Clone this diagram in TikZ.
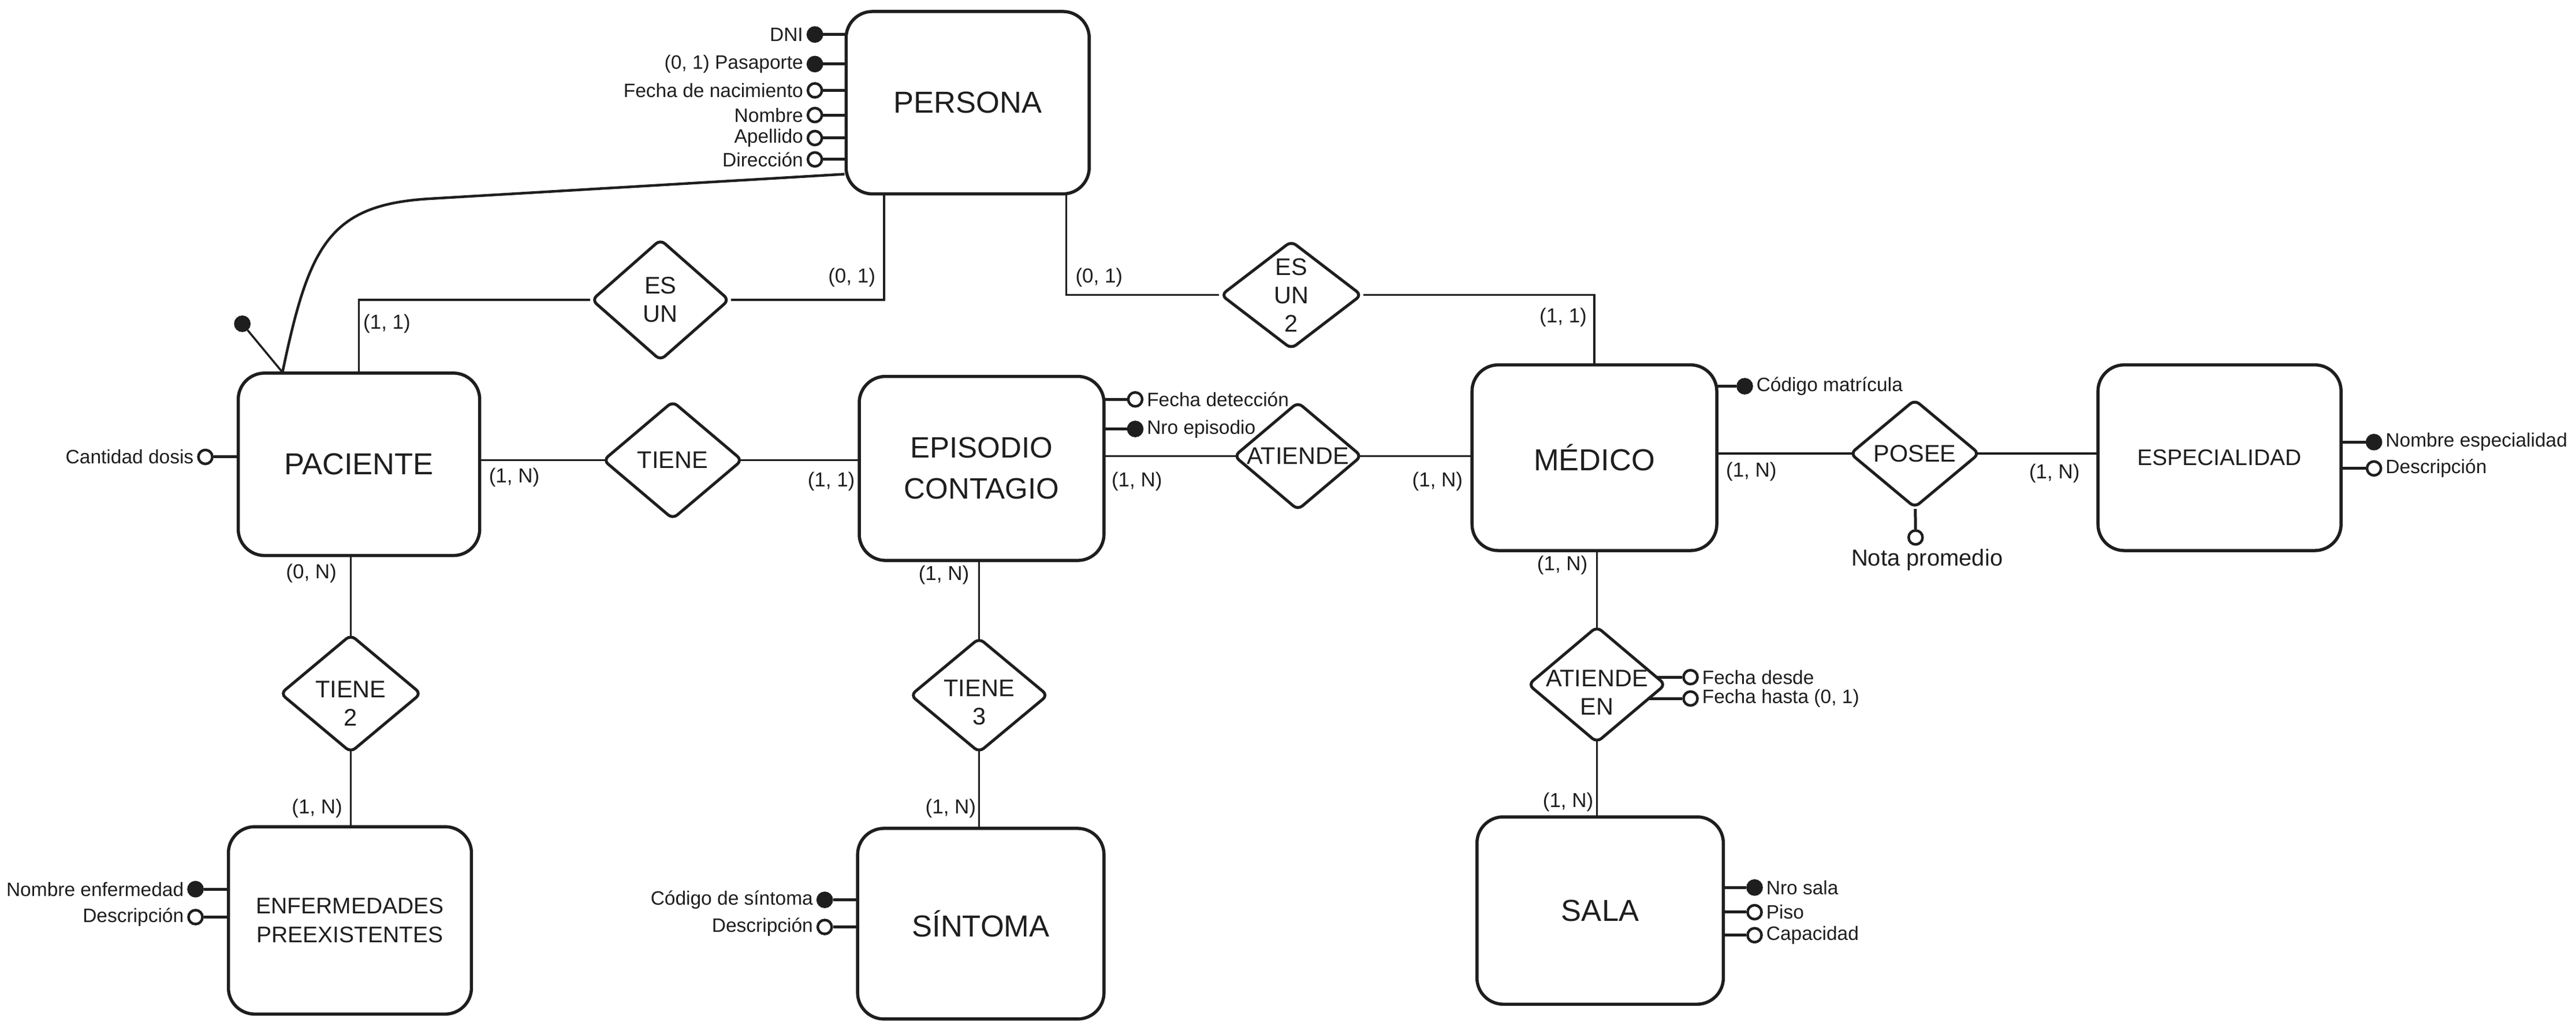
\documentclass[tikz,border=0pt]{standalone}
\usepackage{fontspec}
\setmainfont{Liberation Sans}
\usetikzlibrary{shapes.geometric,backgrounds,calc}
\definecolor{ink}{HTML}{1E1E1E}
\begin{document}
\begin{tikzpicture}[x=0.02cm,y=-0.02cm,
  every node/.style={text=ink},
  ent/.style={draw=ink, line width=1.1pt, fill=white, rounded corners=0.32cm, align=center, inner sep=0pt, font=\fontsize{10.5}{14}\selectfont},
  entsm/.style={ent, font=\fontsize{7.8}{10}\selectfont},
  rel/.style={draw=ink, line width=1pt, fill=white, diamond, inner sep=0pt, rounded corners=2pt},
  rtxt/.style={align=center, font=\fontsize{8.3}{9.8}\selectfont, inner sep=0pt},
  card/.style={font=\fontsize{7}{8}\selectfont, inner sep=0pt},
  ao/.style={circle, draw=ink, line width=0.9pt, fill=white, minimum size=0.17cm, inner sep=0pt},
  af/.style={ao, fill=ink},
  atxt/.style={font=\fontsize{6.7}{8}\selectfont, inner sep=1pt},
  conn/.style={draw=ink, line width=0.7pt},
  aconn/.style={draw=ink, line width=1pt},
]
\useasboundingbox (0,0) rectangle (1568,624);

% entities
\node[ent, minimum width=2.96cm, minimum height=2.22cm] (per) at (589,62.5) {PERSONA};
\node[ent, minimum width=2.94cm, minimum height=2.22cm] (pac) at (218.5,282.5) {PACIENTE};
\node[ent, minimum width=2.98cm, minimum height=2.24cm, font=\fontsize{10.2}{14.2}\selectfont] (epi) at (597.5,285) {EPISODIO\\CONTAGIO};
\node[ent, minimum width=2.98cm, minimum height=2.26cm] (med) at (970.5,278.5) {MÉDICO};
\node[entsm, minimum width=2.96cm, minimum height=2.26cm] (esp) at (1351,278.5) {ESPECIALIDAD};
\node[entsm, minimum width=2.96cm, minimum height=2.28cm] (enf) at (213,560) {ENFERMEDADES\\PREEXISTENTES};
\node[ent, minimum width=3.0cm, minimum height=2.32cm] (sin) at (597,562) {SÍNTOMA};
\node[ent, minimum width=3.0cm, minimum height=2.28cm] (sal) at (974,554) {SALA};

% relationships
\node[rel, minimum width=1.68cm, minimum height=1.48cm] (esun) at (402,182.5) {};
\node[rtxt] (esun-t) at (esun) {ES\\UN};
\node[rel, minimum width=1.72cm, minimum height=1.32cm] (esun2) at (786,179.5) {};
\node[rtxt] (esun2-t) at (esun2) {ES\\UN\\2};
\node[rel, minimum width=1.7cm, minimum height=1.44cm] (tiene) at (409.5,280) {};
\node[rtxt] (tiene-t) at (tiene) {TIENE};
\node[rel, minimum width=1.56cm, minimum height=1.32cm] (atiende) at (790,277.5) {};
\node[rtxt] (atiende-t) at (atiende) {ATIENDE};
\node[rel, minimum width=1.58cm, minimum height=1.32cm] (posee) at (1165.5,276) {};
\node[rtxt] (posee-t) at (posee) {POSEE};
\node[rel, minimum width=1.68cm, minimum height=1.42cm] (aen) at (972,416.5) {};
\node[rtxt] (aen-t) at ([yshift=-0.1cm]aen.center) {ATIENDE\\EN};
\node[rel, minimum width=1.72cm, minimum height=1.44cm] (tiene2) at (213.5,422) {};
\node[rtxt] (tiene2-t) at ([yshift=-0.12cm]tiene2.center) {TIENE\\2};
\node[rel, minimum width=1.68cm, minimum height=1.4cm] (tiene3) at (596,423) {};
\node[rtxt] (tiene3-t) at ([yshift=-0.09cm]tiene3.center) {TIENE\\3};

% attributes
\node[af, label={[atxt]left:DNI}] (a-dni) at (496,21) {};
\node[af, label={[atxt]left:{(0, 1) Pasaporte}}] (a-pas) at (496,39) {};
\node[ao, label={[atxt]left:Fecha de nacimiento}] (a-fn) at (496,55) {};
\node[ao, label={[atxt]left:Nombre}] (a-nom) at (496,70) {};
\node[ao, label={[atxt]left:Apellido}] (a-ape) at (496,84) {};
\node[ao, label={[atxt]left:Dirección}] (a-dir) at (496,97) {};
\node[ao, label={[atxt]left:Cantidad dosis}] (a-cd) at (125,278) {};
\node[af] (a-pk) at (147.5,197) {};
\node[ao, label={[atxt]right:Fecha detección}] (a-fdet) at (691,243) {};
\node[af, label={[atxt]right:Nro episodio}] (a-nep) at (691,261) {};
\node[af, label={[atxt]right:Código matrícula}] (a-cm) at (1062,235) {};
\node[af, label={[atxt]right:Nombre especialidad}] (a-ne) at (1445,269) {};
\node[ao, label={[atxt]right:Descripción}] (a-de) at (1445,285) {};
\node[ao, label={[atxt,font=\fontsize{8}{9}\selectfont,xshift=0.14cm]below:Nota promedio}] (a-nota) at (1166,327) {};
\node[ao, label={[atxt]right:Fecha desde}] (a-fd) at (1029,412) {};
\node[ao, label={[atxt]right:{Fecha hasta (0, 1)}}] (a-fh) at (1029,425) {};
\node[af, label={[atxt]right:Nro sala}] (a-ns) at (1068,540) {};
\node[ao, label={[atxt]right:Piso}] (a-pi) at (1068,555) {};
\node[ao, label={[atxt]right:Capacidad}] (a-ca) at (1068,569) {};
\node[af, label={[atxt]left:Nombre enfermedad}] (a-nen) at (119,541) {};
\node[ao, label={[atxt]left:Descripción}] (a-den) at (119,558) {};
\node[af, label={[atxt]left:Código de síntoma}] (a-cs) at (502,547.5) {};
\node[ao, label={[atxt]left:Descripción}] (a-ds) at (502,564) {};

% cardinalities
\node[card] (c1) at (235.5,197) {(1, 1)};
\node[card] (c2) at (518.5,169) {(0, 1)};
\node[card] (c3) at (669,169) {(0, 1)};
\node[card] (c4) at (951.5,193) {(1, 1)};
\node[card] (c5) at (313,290.5) {(1, N)};
\node[card] (c6) at (506,293) {(1, 1)};
\node[card] (c7) at (692,293) {(1, N)};
\node[card] (c8) at (875,293) {(1, N)};
\node[card] (c9) at (1066,287) {(1, N)};
\node[card] (c10) at (1250.5,288) {(1, N)};
\node[card] (c11) at (951,344) {(1, N)};
\node[card] (c12) at (954.5,488) {(1, N)};
\node[card] (c13) at (189.5,349) {(0, N)};
\node[card] (c14) at (193,492) {(1, N)};
\node[card] (c15) at (574.5,350) {(1, N)};
\node[card] (c16) at (578.7,492) {(1, N)};

\begin{pgfonlayer}{background}
\fill[white] (0,0) rectangle (1568,624);
% relationship connectors
\draw[conn] (pac) |- (esun);
\draw[conn] (esun) -| ([xshift=0.48cm]per.south west);
\draw[conn] ([xshift=-0.3cm]per.south east) |- (esun2);
\draw[conn] (esun2) -| (med);
\draw[conn] (tiene -| pac) -- (tiene -| epi);
\draw[conn] (atiende -| epi) -- (atiende -| med);
\draw[conn] (posee -| med) -- (posee -| esp);
\draw[conn] (tiene2 |- pac) -- (tiene2 |- enf);
\draw[conn] (tiene3 |- epi) -- (tiene3 |- sin);
\draw[conn] (aen |- med) -- (aen |- sal);
\draw[conn, line width=0.9pt] ([xshift=0.56cm]pac.north west) .. controls (188,150) and (200,125) .. (260,121) -- ([yshift=0.26cm]per.south west);
% attribute connectors
\draw[conn] (a-pk) -- ([xshift=0.55cm]pac.north west);
\foreach \a in {a-dni,a-pas,a-fn,a-nom,a-ape,a-dir}{\draw[aconn] (\a) -- (\a -| per);}
\draw[aconn] (a-cd) -- (a-cd -| pac);
\foreach \a in {a-fdet,a-nep}{\draw[aconn] (\a) -- (\a -| epi);}
\draw[aconn] (a-cm) -- (a-cm -| med);
\foreach \a in {a-ne,a-de}{\draw[aconn] (\a) -- (\a -| esp);}
\draw[aconn] (a-nota) -- (posee);
\foreach \a in {a-fd,a-fh}{\draw[aconn] (\a) -- (\a -| aen);}
\foreach \a in {a-ns,a-pi,a-ca}{\draw[aconn] (\a) -- (\a -| sal);}
\foreach \a in {a-nen,a-den}{\draw[aconn] (\a) -- (\a -| enf);}
\foreach \a in {a-cs,a-ds}{\draw[aconn] (\a) -- (\a -| sin);}
\end{pgfonlayer}
\end{tikzpicture}
\end{document}
